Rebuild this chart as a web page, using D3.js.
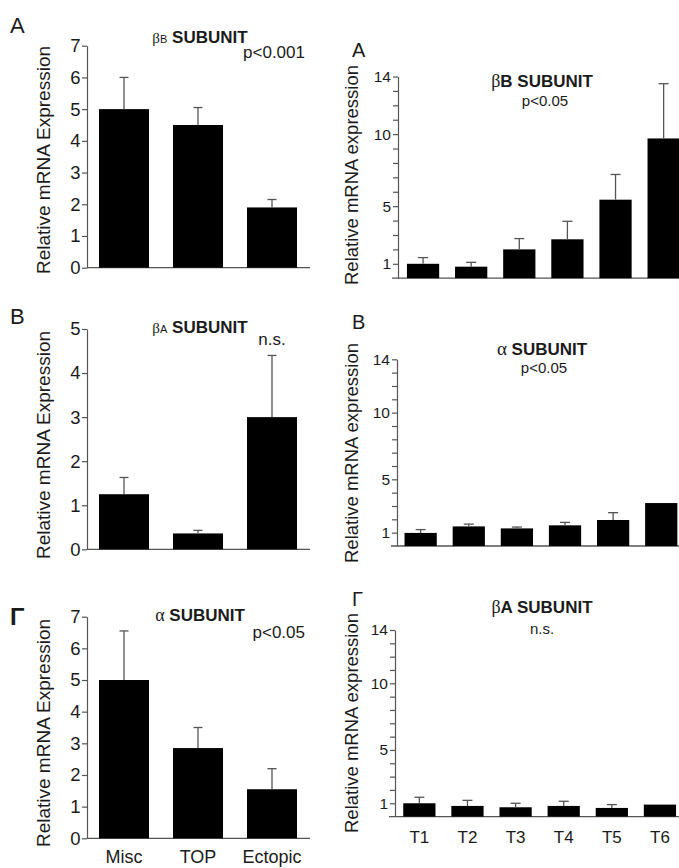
<!DOCTYPE html>
<html>
<head>
<meta charset="utf-8">
<script src="https://cdn.jsdelivr.net/npm/d3@7"></script>
<style>
  body { margin: 0; background: #fff; }
  text { font-family: "Liberation Sans", Arial, Helvetica, sans-serif; fill: #1b1b1b; }
</style>
</head>
<body>
<script>
// categories
var groups = ["Misc", "TOP", "Ectopic"];
var trimesters = ["T1", "T2", "T3", "T4", "T5", "T6"];

// left column: pregnancy type
var betaBGroup = [5.0, 4.5, 1.9];
var betaBGroupErr = [1.0, 0.55, 0.25];
var betaAGroup = [1.25, 0.36, 3.0];
var betaAGroupErr = [0.38, 0.07, 1.4];
var alphaGroup = [5.0, 2.85, 1.55];
var alphaGroupErr = [1.55, 0.65, 0.65];

// right column: by trimester (T6 error bars are not visible)
var betaBTrim = [1.0, 0.8, 2.0, 2.7, 5.45, 9.7];
var betaBTrimErr = [0.43, 0.3, 0.75, 1.25, 1.75, 3.8];
var alphaTrim = [0.98, 1.47, 1.32, 1.55, 1.95, 3.22];
var alphaTrimErr = [0.25, 0.17, 0.1, 0.22, 0.55, 0];
var betaATrim = [1.0, 0.8, 0.7, 0.8, 0.65, 0.9];
var betaATrimErr = [0.45, 0.42, 0.3, 0.35, 0.25, 0];

// tick labels
var ticks7 = [0, 1, 2, 3, 4, 5, 6, 7];
var ticks5 = [0, 1, 2, 3, 4, 5];
var ticks14 = d3.range(1, 15);
var ticks14Labels = [1, 5, 10, 14];

var W = 679, H = 868;
var axisColor = "#555";

var svg = d3.select("body").append("svg")
    .attr("width", W)
    .attr("height", H);

svg.append("rect").attr("width", W).attr("height", H).attr("fill", "#fff");

function drawPanel(p) {
    var g = svg.append("g");

    var x = d3.scaleBand()
        .domain(p.cats)
        .range(p.xRange)
        .paddingInner(p.padIn)
        .paddingOuter(p.padIn / 2);

    var y = d3.scaleLinear()
        .domain([0, p.yMax])
        .range([p.yBottom, p.yTop]);

    // y axis
    var yAxis = d3.axisLeft(y)
        .tickValues(p.ticks)
        .tickSize(p.tickLen)
        .tickSizeOuter(0)
        .tickPadding(p.tickPad)
        .tickFormat(function(d) {
            return p.labels.indexOf(d) >= 0 ? d : "";
        });

    var ax = g.append("g")
        .attr("transform", "translate(" + p.axisX + ",0)")
        .call(yAxis);
    ax.selectAll("path, line").attr("stroke", axisColor).attr("stroke-width", 1.2);
    ax.selectAll("text")
        .attr("font-size", p.tickFont)
        .attr("font-family", "Liberation Sans, Arial, sans-serif")
        .attr("fill", "#1b1b1b");

    // baseline
    g.append("line")
        .attr("x1", p.axisX - (p.right ? 6 : 0))
        .attr("x2", p.xEnd)
        .attr("y1", y(0))
        .attr("y2", y(0))
        .attr("stroke", axisColor)
        .attr("stroke-width", 1.3);

    // bars
    g.selectAll("rect.bar")
        .data(p.values)
        .enter()
        .append("rect")
        .attr("class", "bar")
        .attr("x", function(d, i) { return x(p.cats[i]); })
        .attr("y", function(d) { return y(d); })
        .attr("width", x.bandwidth())
        .attr("height", function(d) { return y(0) - y(d); })
        .attr("fill", "#000");

    // error bars, upper side only
    var eb = p.values.map(function(v, i) {
        return { cat: p.cats[i], v: v, e: p.errs[i] };
    }).filter(function(d) { return d.e > 0; });

    g.selectAll("line.err")
        .data(eb)
        .enter()
        .append("line")
        .attr("class", "err")
        .attr("x1", function(d) { return x(d.cat) + x.bandwidth() / 2; })
        .attr("x2", function(d) { return x(d.cat) + x.bandwidth() / 2; })
        .attr("y1", function(d) { return y(d.v); })
        .attr("y2", function(d) { return y(d.v + d.e); })
        .attr("stroke", axisColor)
        .attr("stroke-width", 1.3);

    g.selectAll("line.cap")
        .data(eb)
        .enter()
        .append("line")
        .attr("class", "cap")
        .attr("x1", function(d) { return x(d.cat) + x.bandwidth() / 2 - p.cap / 2; })
        .attr("x2", function(d) { return x(d.cat) + x.bandwidth() / 2 + p.cap / 2; })
        .attr("y1", function(d) { return y(d.v + d.e); })
        .attr("y2", function(d) { return y(d.v + d.e); })
        .attr("stroke", axisColor)
        .attr("stroke-width", 1.3);

    // category labels
    if (p.showCats) {
        g.selectAll("text.cat")
            .data(p.cats)
            .enter()
            .append("text")
            .attr("class", "cat")
            .attr("x", function(d) { return x(d) + x.bandwidth() / 2; })
            .attr("y", p.catY)
            .attr("text-anchor", "middle")
            .attr("font-size", p.catFont)
            .text(function(d) { return d; });
    }

    // y axis title
    g.append("text")
        .attr("transform", "translate(" + p.yTitleX + "," + p.yTitleY + ") rotate(-90)")
        .attr("text-anchor", "middle")
        .attr("font-size", p.yTitleFont)
        .text(p.yTitle);

    // panel letter
    g.append("text")
        .attr("x", p.letterX)
        .attr("y", p.letterY)
        .attr("font-size", p.letterFont)
        .attr("font-weight", p.letterWeight || "normal")
        .text(p.letter);

    // title
    var t = g.append("text")
        .attr("x", p.titleX)
        .attr("y", p.titleY)
        .attr("text-anchor", "middle");
    p.title.forEach(function(s) {
        t.append("tspan")
            .attr("font-size", s.size)
            .attr("font-weight", s.bold ? "bold" : "normal")
            .attr("font-family", s.serif ? "Liberation Serif, Times New Roman, serif" : null)
            .text(s.txt);
    });

    // significance
    g.append("text")
        .attr("x", p.sigX)
        .attr("y", p.sigY)
        .attr("text-anchor", p.sigAnchor)
        .attr("font-size", p.sigFont)
        .text(p.sig);
}

var leftBase = {
    cats: groups, xRange: [87, 309], padIn: 0.324, axisX: 87, xEnd: 310,
    tickLen: 5, tickPad: 1.5, tickFont: 18.5, cap: 9, right: false,
    yTitle: "Relative mRNA Expression", yTitleX: 50, yTitleFont: 19,
    letterX: 10, letterFont: 22, titleX: 200, sigFont: 17, sigAnchor: "end", sigX: 305,
    catFont: 18, catY: 863
};

var rightBase = {
    cats: trimesters, padIn: 0.33, xEnd: W, yMax: 14,
    ticks: ticks14, labels: ticks14Labels,
    tickLen: 5, tickPad: 2, tickFont: 15.5, cap: 10, right: true,
    yTitle: "Relative mRNA expression", yTitleX: 358, yTitleFont: 18.5,
    letterX: 352, letterFont: 20, titleX: 542, sigFont: 15, sigAnchor: "middle", sigX: 545,
    catFont: 17, catY: 843
};

function panel(base, extra) {
    return Object.assign({}, base, extra);
}

drawPanel(panel(leftBase, {
    values: betaBGroup, errs: betaBGroupErr, yMax: 7, ticks: ticks7, labels: ticks7,
    yTop: 45.7, yBottom: 267.7, yTitleY: 160,
    letter: "A", letterY: 33,
    titleY: 43,
    title: [{ txt: "β", size: 15, serif: true }, { txt: "B", size: 11 }, { txt: " SUBUNIT", size: 17, bold: true }],
    sig: "p<0.001", sigY: 58
}));

drawPanel(panel(leftBase, {
    values: betaAGroup, errs: betaAGroupErr, yMax: 5, ticks: ticks5, labels: ticks5,
    yTop: 329, yBottom: 549.3, yTitleY: 445,
    letter: "B", letterY: 323.5,
    titleY: 333,
    title: [{ txt: "β", size: 15, serif: true }, { txt: "A", size: 11 }, { txt: " SUBUNIT", size: 17, bold: true }],
    sig: "n.s.", sigY: 345, sigAnchor: "middle", sigX: 272
}));

drawPanel(panel(leftBase, {
    values: alphaGroup, errs: alphaGroupErr, yMax: 7, ticks: ticks7, labels: ticks7,
    yTop: 616.7, yBottom: 838.3, yTitleY: 733,
    letter: "Γ", letterY: 625, letterFont: 24, letterWeight: "bold",
    titleY: 620.5,
    title: [{ txt: "α", size: 18, serif: true }, { txt: " SUBUNIT", size: 17, bold: true }],
    sig: "p<0.05", sigY: 638,
    showCats: true
}));

drawPanel(panel(rightBase, {
    values: betaBTrim, errs: betaBTrimErr, xRange: [399, 687.7], axisX: 398,
    yTop: 76.5, yBottom: 278.2, yTitleY: 175,
    letter: "A", letterY: 57,
    titleY: 87,
    title: [{ txt: "β", size: 18, serif: true }, { txt: "B SUBUNIT", size: 17, bold: true }],
    sig: "p<0.05", sigY: 106
}));

drawPanel(panel(rightBase, {
    values: alphaTrim, errs: alphaTrimErr, xRange: [396.6, 685.3], axisX: 397,
    yTop: 359.3, yBottom: 546, yTitleY: 453,
    letter: "B", letterY: 328.5,
    titleY: 355,
    title: [{ txt: "α", size: 19, serif: true }, { txt: " SUBUNIT", size: 17, bold: true }],
    sig: "p<0.05", sigY: 373, sigX: 544
}));

drawPanel(panel(rightBase, {
    values: betaATrim, errs: betaATrimErr, xRange: [395.3, 684], axisX: 395,
    yTop: 630, yBottom: 816.6, yTitleY: 723,
    letter: "Γ", letterY: 606, letterFont: 20,
    titleY: 613,
    title: [{ txt: "β", size: 18, serif: true }, { txt: "A SUBUNIT", size: 17, bold: true }],
    sig: "n.s.", sigY: 634, sigX: 542,
    showCats: true
}));
</script>
</body>
</html>
